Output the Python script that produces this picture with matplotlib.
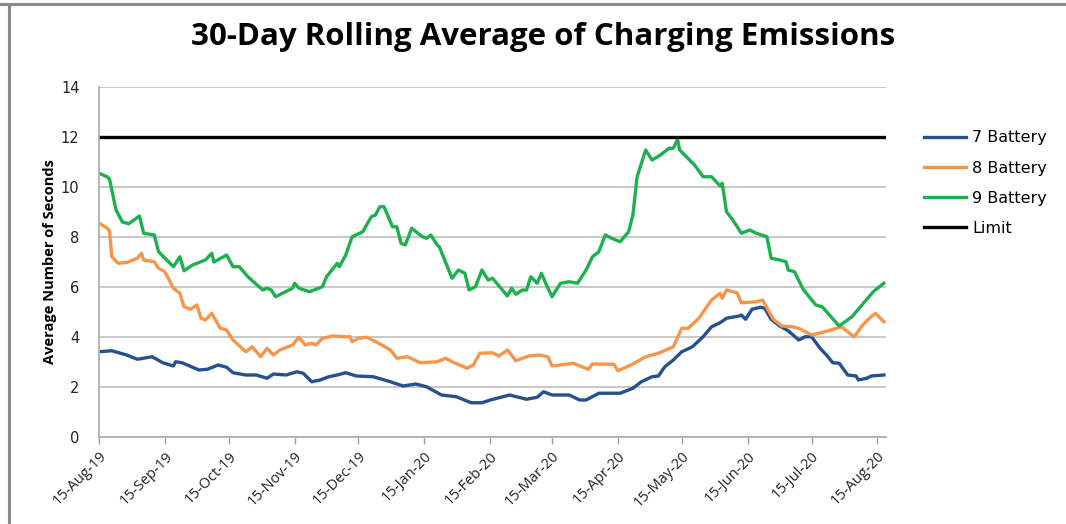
import numpy as np
import pandas as pd
import matplotlib
matplotlib.use("Agg")
import matplotlib.pyplot as plt
import matplotlib.dates as mdates
from matplotlib.lines import Line2D

start = pd.Timestamp("2019-08-15")

# days since 15-Aug-19
b7_days = [0, 6, 13, 18, 25, 30, 35, 36, 39, 47, 51, 56, 60, 63, 69, 74, 79, 82, 88, 93, 96, 100,
           104, 108, 112, 116, 121, 129, 137, 143, 149, 154, 161, 168, 175, 180, 184, 193, 201, 206,
           209, 213, 221, 226, 229, 235, 245, 251, 255, 260, 263, 266, 270, 274, 279, 284, 288, 292,
           295, 301, 302, 304, 307, 311, 313, 316, 320, 324, 329, 332, 335, 339, 342, 345, 348, 352,
           356, 357, 361, 363, 369]
b7_vals = [3.41, 3.45, 3.28, 3.11, 3.21, 2.97, 2.84, 3.01, 2.97, 2.68, 2.71, 2.88, 2.79, 2.57, 2.48,
           2.48, 2.35, 2.52, 2.48, 2.61, 2.55, 2.21, 2.28, 2.41, 2.48, 2.57, 2.44, 2.41, 2.21, 2.04,
           2.12, 2.01, 1.68, 1.61, 1.37, 1.37, 1.48, 1.68, 1.51, 1.59, 1.81, 1.68, 1.68, 1.48, 1.48,
           1.75, 1.75, 1.95, 2.21, 2.41, 2.44, 2.81, 3.08, 3.41, 3.61, 4.01, 4.41, 4.57, 4.75, 4.84,
           4.88, 4.71, 5.11, 5.19, 5.15, 4.71, 4.44, 4.25, 3.88, 4.01, 4.01, 3.55, 3.28, 2.97, 2.95,
           2.48, 2.44, 2.28, 2.35, 2.44, 2.48]

b8_days = [0, 4, 5, 6, 9, 13, 16, 18, 20, 21, 26, 28, 31, 35, 38, 40, 43, 46, 48, 50, 53, 57, 60,
           63, 69, 72, 76, 79, 82, 85, 91, 94, 97, 100, 102, 105, 110, 116, 118, 119, 122, 126, 133,
           137, 140, 145, 151, 159, 163, 166, 173, 176, 179, 185, 188, 192, 196, 202, 207, 211, 213,
           223, 230, 232, 242, 244, 251, 257, 263, 270, 274, 277, 282, 288, 292, 293, 295, 300, 302,
           309, 312, 317, 321, 326, 329, 335, 343, 349, 355, 359, 363, 365, 369]
b8_vals = [8.55, 8.35, 8.21, 7.21, 6.95, 6.98, 7.08, 7.15, 7.35, 7.08, 7.01, 6.75, 6.61, 5.95, 5.75,
           5.21, 5.11, 5.28, 4.75, 4.68, 4.95, 4.35, 4.28, 3.88, 3.41, 3.61, 3.21, 3.55, 3.28, 3.48,
           3.68, 3.99, 3.68, 3.75, 3.68, 3.95, 4.04, 4.01, 4.01, 3.81, 3.95, 3.99, 3.68, 3.48, 3.15,
           3.21, 2.97, 3.01, 3.15, 3.01, 2.75, 2.88, 3.35, 3.37, 3.24, 3.48, 3.05, 3.24, 3.28, 3.21,
           2.84, 2.95, 2.71, 2.92, 2.91, 2.65, 2.92, 3.21, 3.35, 3.61, 4.35, 4.35, 4.75, 5.48, 5.75,
           5.55, 5.88, 5.77, 5.37, 5.41, 5.48, 4.71, 4.44, 4.41, 4.35, 4.08, 4.25, 4.41, 4.01, 4.48,
           4.81, 4.95, 4.61]

b9_days = [0, 4, 5, 8, 11, 14, 19, 21, 26, 28, 35, 38, 40, 44, 50, 53, 54, 60, 63, 66, 70, 77, 79,
           81, 83, 91, 92, 94, 99, 105, 107, 112, 113, 116, 119, 124, 128, 130, 132, 134, 138, 140,
           142, 144, 147, 152, 154, 156, 159, 160, 166, 169, 172, 174, 177, 180, 183, 185, 187, 192,
           194, 196, 199, 201, 203, 206, 208, 210, 213, 217, 221, 225, 229, 232, 235, 238, 241, 245,
           249, 251, 253, 257, 260, 264, 268, 270, 272, 273, 280, 284, 288, 292, 293, 295, 298, 302,
           306, 309, 314, 316, 320, 323, 324, 327, 331, 337, 340, 348, 354, 358, 364, 366, 369]
b9_vals = [10.55, 10.4, 10.3, 9.08, 8.6, 8.53, 8.84, 8.15, 8.08, 7.41, 6.81, 7.21, 6.65, 6.88, 7.08,
           7.35, 7.0, 7.28, 6.81, 6.81, 6.41, 5.88, 5.95, 5.88, 5.61, 5.95, 6.15, 5.95, 5.81, 6.01,
           6.41, 6.95, 6.81, 7.28, 8.01, 8.21, 8.81, 8.88, 9.21, 9.21, 8.41, 8.41, 7.75, 7.68, 8.35,
           8.01, 7.95, 8.08, 7.68, 7.61, 6.35, 6.68, 6.55, 5.88, 6.01, 6.68, 6.28, 6.35, 6.15, 5.64,
           5.95, 5.71, 5.88, 5.88, 6.41, 6.15, 6.55, 6.15, 5.61, 6.15, 6.21, 6.15, 6.68, 7.21, 7.41,
           8.08, 7.95, 7.81, 8.21, 8.88, 10.41, 11.48, 11.08, 11.28, 11.55, 11.55, 11.9, 11.48, 10.88,
           10.41, 10.41, 10.04, 10.15, 9.01, 8.68, 8.15, 8.28, 8.15, 8.01, 7.15, 7.08, 7.01, 6.68,
           6.61, 5.91, 5.28, 5.21, 4.44, 4.81, 5.21, 5.81, 5.95, 6.15]

limit_value = 12
series_names = ["7 Battery", "8 Battery", "9 Battery", "Limit"]
colors = ["#26508e", "#f7964a", "#1db04e", "#000000"]


def to_dates(days):
    return start + pd.to_timedelta(days, unit="D")


fig = plt.figure(figsize=(10.66, 5.24), dpi=100)
ax = fig.add_axes([99 / 1066, 1 - 437 / 524, (886 - 99) / 1066, 350 / 524])

for days, vals, c in zip([b7_days, b8_days, b9_days], [b7_vals, b8_vals, b9_vals], colors[:3]):
    ax.plot(to_dates(days), vals, color=c, lw=2.4, solid_joinstyle="round")

x_end = start + pd.Timedelta(days=370)
ax.plot([start, x_end], [limit_value, limit_value], color="black", lw=2.4)

ax.set_xlim(start, x_end)
ax.set_ylim(0, 14)
ax.set_yticks(range(0, 15, 2))
ax.yaxis.grid(True, color="#c4c4c4", lw=1.3)
ax.set_axisbelow(True)
ax.tick_params(axis="y", length=0, pad=14, labelsize=10.5, labelcolor="#222222")

ticks = pd.date_range("2019-08-01", "2020-08-15", freq="MS") + pd.Timedelta(days=14)
ax.set_xticks(ticks)
ax.xaxis.set_major_formatter(mdates.DateFormatter("%d-%b-%y"))
ax.tick_params(axis="x", length=5, color="#a0a0a0", width=1, labelsize=10.5, labelcolor="#222222")
for lbl in ax.get_xticklabels():
    lbl.set_rotation(45)
    lbl.set_ha("right")
    lbl.set_rotation_mode("anchor")
    lbl.set_family("Open Sans")

for s in ["top", "right"]:
    ax.spines[s].set_visible(False)
for s in ["left", "bottom"]:
    ax.spines[s].set_color("#b0b0b0")
    ax.spines[s].set_linewidth(1.3)

ax.set_ylabel("Average Number of Seconds", fontsize=10.5, fontweight="bold",
              family="Open Sans", labelpad=3)

fig.text(543 / 1066, 1 - 37 / 524, "30-Day Rolling Average of Charging Emissions",
         ha="center", va="center", fontsize=22.5, fontweight="bold", family="Open Sans")

handles = [Line2D([], [], color=c, lw=2.4) for c in colors]
fig.legend(handles, series_names, loc="upper left", bbox_to_anchor=(910 / 1066, 1 - 116 / 524),
           frameon=False, fontsize=11.5, handlelength=2.6, handletextpad=0.4, labelspacing=0.95)

# chart border (top and left edge of the screenshot frame)
fig.add_artist(Line2D([0, 1], [1 - 3.5 / 524] * 2, color="#8a8a8a", lw=2.2, transform=fig.transFigure))
fig.add_artist(Line2D([8.5 / 1066] * 2, [0, 1 - 3.5 / 524], color="#8a8a8a", lw=2.2,
                      transform=fig.transFigure))

fig.savefig("out.png", dpi=100)
